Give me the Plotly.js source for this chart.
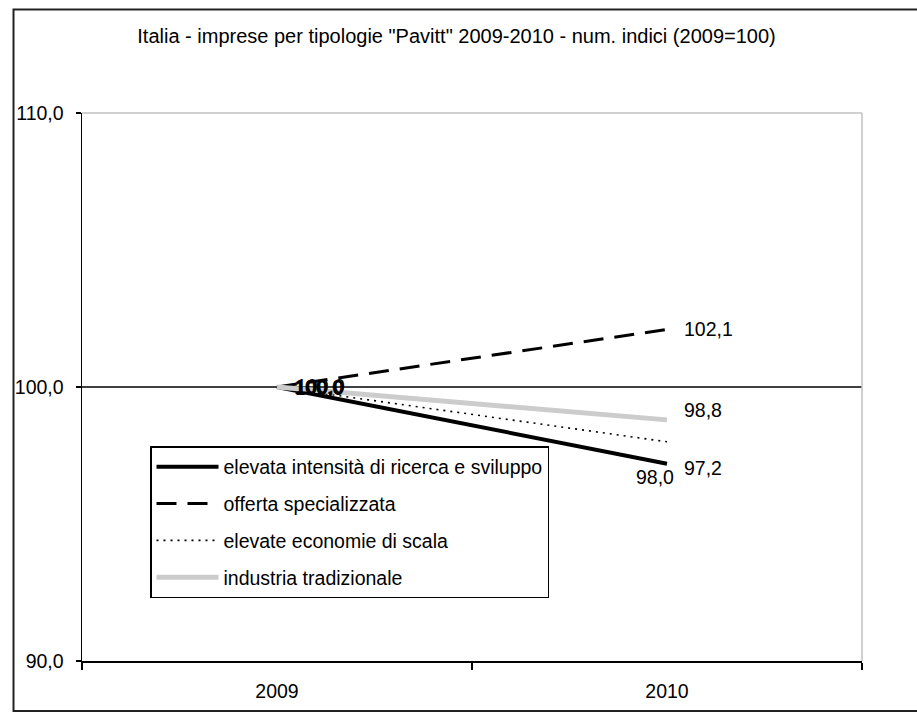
<!DOCTYPE html>
<html>
<head>
<meta charset="utf-8">
<script src="https://cdn.plot.ly/plotly-3.0.1.min.js"></script>
<style>html,body{margin:0;padding:0;background:#fff;}#chart{width:917px;height:712px;}</style>
</head>
<body>
<div id="chart"></div>
<script>
// ---- data ----
const years = ['2009', '2010'];
const seriesNames = [
  'elevata intensità di ricerca e sviluppo',
  'offerta specializzata',
  'elevate economie di scala',
  'industria tradizionale'
];
const ricercaSviluppo = [100.0, 97.2];
const offertaSpecializzata = [100.0, 102.1];
const economieScala = [100.0, 98.0];
const industriaTradizionale = [100.0, 98.8];
const yTickValues = [90, 100, 110];
const chartTitle = 'Italia - imprese per tipologie "Pavitt" 2009-2010 - num. indici (2009=100)';

// ---- styling ----
const FONT = 'Liberation Sans, Arial, sans-serif';
const FS = 19.5;
const seriesValues = [ricercaSviluppo, offertaSpecializzata, economieScala, industriaTradizionale];
const lineStyles = [
  {color: '#000000', width: 4, dash: 'solid'},
  {color: '#000000', width: 3, dash: '20px,11px'},
  {color: '#000000', width: 1.6, dash: '2px,5px'},
  {color: '#cccccc', width: 5, dash: 'solid'}
];
// label offsets [series][point] as [xanchor, xshift, yshift]
const labelOffsets = [
  [['left', 16, 0], ['left', 15, -4]],
  [['left', 17, 1], ['left', 15, 0]],
  [['left', 16, -1], ['center', -12, -35]],
  [['left', 15, 0], ['left', 15, 10]]
];

const fmt = v => v.toFixed(1).replace('.', ',');

const traces = seriesNames.map((name, i) => ({
  type: 'scatter',
  mode: 'lines',
  name: name,
  x: years,
  y: seriesValues[i],
  legendgroup: 'g' + i,
  line: lineStyles[i],
  hoverinfo: 'skip'
}));

const annotations = [];
seriesValues.forEach((vals, i) => {
  vals.forEach((v, j) => {
    const o = labelOffsets[i][j];
    annotations.push({
      x: years.indexOf(years[j]), y: v, xref: 'x', yref: 'y',
      text: fmt(v), showarrow: false,
      xanchor: o[0], yanchor: 'middle', xshift: o[1], yshift: o[2],
      font: {family: FONT, size: FS, color: '#000'}
    });
  });
});

const L = 82, R = 862, T = 113, B = 661, W = 917, H = 712;
const px = p => (p - L) / (R - L);
const py = p => (B - p) / (B - T);

const shapes = [
  {type: 'rect', xref: 'paper', yref: 'paper', x0: px(13.5), x1: px(935), y0: py(711), y1: py(9.5),
   line: {color: '#222', width: 2}, layer: 'below'},
  {type: 'line', xref: 'paper', yref: 'y', x0: 0, x1: 1, y0: 100, y1: 100,
   line: {color: '#000', width: 1.5}, layer: 'below'},
  {type: 'line', xref: 'paper', yref: 'paper', x0: 0, x1: 1, y0: 1, y1: 1, line: {color: '#c0c0c0', width: 1.5}},
  {type: 'line', xref: 'paper', yref: 'paper', x0: 1, x1: 1, y0: 0, y1: 1, line: {color: '#c0c0c0', width: 1.5}}
];

const layout = {
  width: W, height: H,
  margin: {l: L, r: W - R, t: T, b: H - B, pad: 0},
  paper_bgcolor: '#ffffff',
  plot_bgcolor: '#ffffff',
  separators: ',.',
  font: {family: FONT, size: FS, color: '#000'},
  title: {
    text: chartTitle,
    font: {family: FONT, size: 20, color: '#000'},
    x: 456.5 / W, xref: 'container', xanchor: 'center',
    y: 1 - 36 / H, yref: 'container', yanchor: 'middle'
  },
  xaxis: {
    type: 'category',
    range: [-0.5, 1.5],
    tickson: 'boundaries',
    ticks: 'outside', ticklen: 7, tickwidth: 1.5, tickcolor: '#000',
    showline: true, linecolor: '#000', linewidth: 2,
    showgrid: false, zeroline: false,
    tickfont: {family: FONT, size: FS, color: '#000'},
    ticklabelstandoff: 12,
    fixedrange: true
  },
  yaxis: {
    range: [90, 110],
    tickvals: yTickValues,
    tickformat: '.1f',
    ticks: 'outside', ticklen: 5, tickwidth: 1.5, tickcolor: '#000',
    showline: true, linecolor: '#000', linewidth: 1.5,
    showgrid: false, zeroline: false,
    tickfont: {family: FONT, size: FS, color: '#000'},
    ticklabelstandoff: 8,
    fixedrange: true
  },
  showlegend: true,
  legend: {
    x: px(150), y: py(446), xanchor: 'left', yanchor: 'top',
    bgcolor: '#ffffff', bordercolor: '#000', borderwidth: 1.5,
    font: {family: FONT, size: FS, color: '#000'},
    traceorder: 'grouped', tracegroupgap: 8.5,
    itemwidth: 62
  },
  annotations: annotations,
  shapes: shapes
};

Plotly.newPlot('chart', traces, layout, {displayModeBar: false, staticPlot: true});
</script>
</body>
</html>
